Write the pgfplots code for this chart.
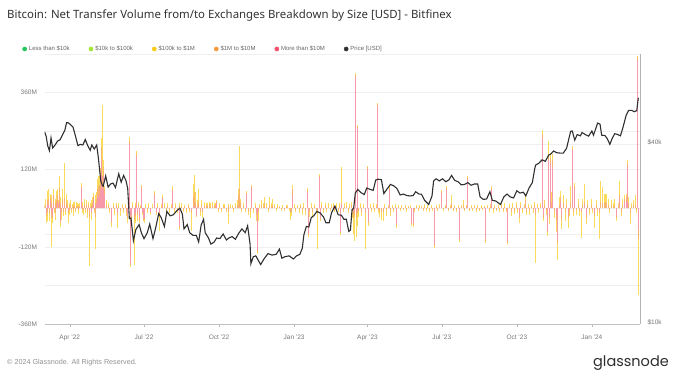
\documentclass[border=0pt]{standalone}
\usepackage{fontspec}
\setmainfont{Liberation Sans}
\newfontfamily\titlefont{Noto Sans}
\newfontfamily\logofont{Poppins}
\usepackage{pgfplots}
\pgfplotsset{compat=1.18}
\usepackage{pgfplotstable}

\definecolor{cgreen}{HTML}{22C55E}
\definecolor{clgreen}{HTML}{A3E635}
\definecolor{cyellow}{HTML}{F9CC16}
\definecolor{corange}{HTML}{F59A3C}
\definecolor{cred}{HTML}{F2506A}
\definecolor{cprice}{HTML}{303030}
\definecolor{ctick}{HTML}{777777}
\definecolor{cgrid}{HTML}{EFEFEF}
\definecolor{ctitle}{HTML}{333333}
\colorlet{byellow}{cyellow!70!white}
\colorlet{borange}{corange!75!white}
\colorlet{bred}{cred!58!white}

% day (from 1 Jan 2022), More than 10M, 1M-10M, 100k-1M  (USD millions)
\pgfplotstableread{
day red ora yel
59 0 6 8
60 0 10 18
61 -15 -10 -20
62 10 15 30
63 0 -10 -30
64 10 20 30
65 0 -15 -25
66 25 10 10
67 -9 -20 -90
68 0 15 25
69 -20 -10 -15
70 10 30 20
71 0 -5 -10
72 5 10 15
73 0 -15 -20
74 0 25 30
75 20 20 20
76 0 15 10
77 24 40 35
78 -40 -7 -10
79 0 15 20
80 0 -10 -25
81 10 20 30
82 0 -10 -15
83 6 25 110
84 0 20 20
85 0 -10 -10
86 5 15 25
87 0 10 15
88 -5 -10 -30
89 0 5 10
90 0 -5 -15
91 0 10 15
92 0 -5 -10
93 0 5 8
94 0 -5 -20
95 0 10 10
96 0 8 12
97 0 -4 -8
98 0 5 15
99 0 8 10
100 0 -6 -12
101 0 6 8
102 0 5 10
104 64 5 10
105 0 -5 -10
106 0 8 12
107 0 -5 -15
108 0 10 20
109 0 -5 -10
110 0 6 8
111 0 10 15
112 0 -10 -20
113 0 10 10
114 -4 -25 -150
115 0 5 10
116 -10 -5 -20
117 0 10 15
118 5 10 20
119 30 8 10
120 0 -5 -10
121 0 15 25
122 -6 -20 -100
123 15 15 20
124 40 20 30
125 34 35 30
126 44 30 25
127 40 40 20
128 60 30 35
129 150 40 30
130 60 40 222
131 100 30 20
132 40 20 10
133 20 10 10
135 0 10 15
137 0 8 7
139 0 -5 -10
141 -40 -7 -10
143 0 8 10
145 0 -5 -15
147 0 10 5
149 -10 -10 -40
150 0 5 10
152 0 -8 -15
154 0 5 8
156 0 -5 -10
158 0 8 5
160 0 -10 -15
161 -20 -10 -15
162 0 5 5
163 200 10 13
164 -170 -5 -7
165 0 -10 -20
166 -20 -10 -20
167 0 10 10
169 -20 -16 -140
170 -15 -10 -20
171 0 8 10
172 160 10 7
173 -10 -10 -20
174 0 10 10
175 -30 -10 -5
176 0 5 5
178 60 8 5
179 -10 -5 -5
180 -30 -5 -5
182 -30 -5 -10
183 0 5 8
185 0 -5 -10
187 0 5 10
189 -10 -5 -5
191 0 5 8
194 40 8 7
196 -10 -5 -5
198 0 5 10
200 -10 -10 -52
202 0 5 8
204 30 5 5
206 0 5 10
208 0 -5 -8
210 0 6 10
212 0 -5 -10
214 0 5 8
216 55 5 8
218 0 -5 -8
220 0 5 10
222 0 -5 -10
224 0 8 9
225 -55 -5 -7
227 0 5 10
229 0 -5 -8
231 0 5 5
233 0 -5 -10
235 0 8 6
237 0 -5 -8
239 -5 -10 -57
241 0 10 20
242 5 30 40
243 10 40 54
244 0 20 30
245 -21 -3 -3
246 0 10 15
248 5 14 40
250 0 -10 -15
251 0 10 15
253 -5 -5 -20
255 0 8 12
257 0 10 5
259 0 8 10
261 0 12 7
263 0 5 10
265 0 6 13
267 0 8 10
269 0 10 5
270 15 5 5
272 0 -5 -8
274 0 5 10
276 0 -5 -5
278 0 6 6
280 0 5 8
282 0 -5 -5
284 0 8 6
285 0 -10 -40
287 0 5 8
289 0 5 5
291 0 -5 -8
293 0 5 10
295 0 10 15
297 0 40 20
298 5 59 130
299 0 20 10
301 0 -5 -8
303 0 8 10
305 0 -5 -5
307 44 5 5
309 0 -10 -10
311 0 -10 -20
313 64 5 5
315 0 -5 -10
317 0 8 10
319 -10 -10 -20
320 -131 -5 -5
321 0 -10 -30
323 0 5 8
325 0 10 15
327 0 5 10
329 0 15 20
331 0 5 10
333 0 -5 -8
335 0 10 25
337 0 8 10
339 0 10 20
341 0 5 8
343 0 -3 -5
345 0 5 8
347 0 3 5
349 0 -3 -6
351 0 5 5
353 0 -4 -4
355 0 5 6
357 0 4 5
359 0 -3 -5
361 0 -15 -21
362 0 -10 -15
363 40 20 13
365 0 5 8
367 0 -5 -8
369 0 5 5
371 0 -5 -10
373 0 8 6
375 0 -5 -15
377 0 5 10
379 0 -8 -12
381 52 5 5
382 -78 -5 -5
384 0 -8 -20
386 0 5 10
388 0 -10 -20
390 0 5 8
392 0 -5 -10
394 -5 -6 -115
396 97 5 5
397 -30 -5 -5
399 0 10 10
401 0 -5 -10
403 0 8 8
405 0 -5 -8
407 0 5 10
409 0 -3 -5
411 0 5 8
413 0 8 10
415 0 -5 -8
417 0 5 12
419 0 -5 -5
421 0 5 10
422 -73 -5 -5
423 10 7 110
425 0 -5 -8
427 0 5 10
429 0 8 12
431 0 -5 -10
433 0 5 8
435 0 10 10
437 0 -10 -20
438 -10 -20 -50
439 -5 -15 -83
440 410 5 5
441 -10 -20 -60
442 250 5 5
443 -5 -10 -40
444 0 -8 -20
446 0 5 10
448 0 -10 -15
450 0 5 8
452 0 -5 -10
453 -6 -10 -110
455 122 5 5
456 -40 -5 -10
458 0 5 8
460 0 -5 -8
462 0 8 10
464 0 -5 -5
466 0 5 8
467 319 5 5
468 0 -5 -10
470 0 -8 -20
472 0 -10 -25
474 0 -10 -30
476 0 5 8
478 0 -5 -20
480 0 5 5
482 58 5 5
483 0 -10 -15
485 0 5 5
487 0 -5 -8
489 0 5 8
491 -50 -5 -5
493 0 5 5
495 0 -3 -5
497 0 4 6
499 0 -3 -3
501 0 5 5
503 0 -4 -6
505 0 3 5
507 0 5 4
509 -45 -5 -5
511 -47 -5 -5
513 0 -5 -5
515 0 4 5
517 0 -3 -6
519 0 5 6
521 0 3 4
523 0 -4 -5
525 0 5 8
527 0 -3 -4
529 0 4 5
531 0 -5 -5
533 0 5 5
535 0 -3 -4
537 -113 -5 -5
539 0 5 5
541 0 -4 -5
543 0 5 7
546 48 5 5
548 0 -3 -5
550 0 4 6
552 58 5 5
554 0 -4 -4
556 0 5 5
558 0 15 25
560 0 -4 -5
562 0 4 5
564 0 -5 -5
566 0 5 5
568 -94 -5 -5
570 0 5 6
572 0 10 15
574 0 -4 -4
576 0 5 5
578 91 5 5
580 0 -4 -5
582 0 5 5
584 0 -3 -5
586 0 4 5
588 0 -5 -5
590 0 5 6
592 0 -4 -5
594 0 5 5
596 0 -3 -3
598 0 4 4
600 -97 -5 -5
602 0 5 5
604 0 -5 -5
606 0 4 8
607 58 5 5
609 0 -5 -10
611 0 5 5
613 0 -4 -5
615 0 5 5
617 0 -5 -8
619 0 8 5
621 0 -5 -5
623 0 5 10
625 0 -5 -5
627 -102 -5 -5
629 0 5 8
631 0 -10 -15
633 0 5 10
635 0 -8 -10
637 0 10 10
639 0 -5 -10
641 -20 -10 -15
643 0 10 10
645 0 -5 -10
647 0 5 8
648 10 15 10
650 0 -10 -10
652 0 5 8
654 0 -8 -12
656 0 5 5
658 0 -5 -10
660 0 10 10
661 -10 -10 -150
663 0 5 8
665 0 -5 -10
667 0 8 10
669 220 12 12
670 -20 -10 -10
672 0 10 15
674 0 -5 -15
676 -70 -5 -10
677 150 18 40
678 -20 -10 -20
679 140 16 16
681 0 20 30
682 130 20 20
684 0 -10 -20
686 -20 -15 -40
688 -100 -12 -50
690 0 10 25
692 20 15 20
693 -20 -15 -30
695 0 15 25
697 0 -10 -30
699 0 10 20
701 -20 -10 -30
702 0 -5 -20
704 0 15 53
706 180 8 6
707 0 -10 -15
709 60 10 10
711 0 -5 -15
713 0 10 20
715 0 -8 -15
717 -5 -8 -80
719 0 10 20
721 10 10 55
723 -20 -10 -20
725 0 10 15
727 0 -5 -15
729 0 10 20
731 0 -5 -10
733 -15 -10 -35
735 0 10 15
737 0 -5 -20
739 -5 -10 -80
741 0 20 66
743 0 15 50
745 0 15 30
747 0 20 25
748 0 15 30
750 0 10 20
752 0 -5 -10
754 0 10 15
756 0 5 10
758 0 10 20
760 -25 -5 -10
762 0 5 10
764 30 10 46
766 0 -10 -15
768 0 10 20
770 20 10 10
772 20 15 10
774 130 10 11
775 0 15 20
777 0 -15 -35
779 0 5 10
781 0 10 15
783 0 10 30
785 0 -5 -10
786 460 10 5
787 -67 -30 -173
}\bars

% BTC price, USD
\pgfplotstableread{
day price
59 44000
61 42500
63 39400
65 38000
67 41900
69 38800
72 39700
75 40900
78 41300
81 42900
84 44500
86 47100
88 47100
91 46400
94 45500
96 43500
100 39500
103 39900
106 39700
109 41400
112 39500
115 38100
117 39700
120 38500
123 39700
125 36000
128 30100
130 29000
131 28900
134 31300
137 28700
140 29400
143 29600
146 28600
150 31800
153 29800
156 31400
159 30100
161 28400
163 22500
165 22600
168 19000
171 20700
175 21500
178 20100
181 19300
185 20200
188 21600
192 19300
195 20800
199 23400
202 22700
206 21200
209 23800
213 23000
217 23200
221 23900
225 24400
228 23300
230 20800
234 21500
237 20200
241 19800
245 19800
248 18800
251 21400
254 22400
256 20200
260 19400
263 18500
267 18800
270 19400
274 19300
278 20000
282 19100
285 19400
289 19600
293 19200
297 20100
301 20800
305 20200
308 21300
311 18500
312 15900
315 16800
318 16900
324 15800
328 16500
333 17200
338 17000
343 17100
347 17800
350 16600
354 16800
359 16900
364 16500
368 16900
372 17100
375 17900
377 19900
380 21200
383 21100
386 22700
389 23000
393 23800
397 23500
401 22800
404 21800
408 21800
411 23600
415 24800
419 23200
423 23100
426 22400
429 22400
432 20400
434 20600
436 24100
438 24400
440 27400
443 28200
447 27500
451 27100
454 28500
458 28200
462 28000
465 30300
468 30500
472 30400
475 27300
479 28300
483 29300
487 29000
491 28400
495 27000
499 27200
503 26900
507 26800
511 26900
514 27700
518 27200
521 27200
525 25900
530 25100
534 26800
536 30100
539 30600
543 30100
547 30600
551 29900
555 30400
558 31400
562 30200
566 29900
570 29200
574 29300
578 29700
582 29100
586 29400
590 29400
593 26600
597 26100
601 26200
605 27700
608 25900
612 25800
618 25100
622 26600
626 27200
630 26600
634 26400
638 27900
642 27400
646 27600
649 26800
653 28500
657 29700
660 33100
661 34000
665 34500
669 35400
673 35000
677 36700
680 37100
683 37900
687 37400
691 37300
695 37300
699 38700
702 41900
704 44100
706 44200
709 41200
712 43000
716 42600
718 43700
722 43000
726 42500
730 44200
732 42800
737 47000
740 46600
742 42800
746 42700
749 41600
752 39900
755 41800
758 43300
761 43100
765 42600
768 45300
772 49900
775 51800
779 51800
782 51300
785 51700
786 54500
787 57100
}\price

\begin{document}
\begin{tikzpicture}
\useasboundingbox (0,0) rectangle (685pt,375pt);

\node[anchor=base west, font=\titlefont\fontsize{11.4}{13}\selectfont, text=ctitle, inner sep=0pt]
  at (7pt,356pt) {Bitcoin: Net Transfer Volume from/to Exchanges Breakdown by Size [USD] - Bitfinex};

% bars axis
\begin{axis}[
  at={(44.5pt,51pt)}, anchor=south west,
  scale only axis, width=595.5pt, height=270pt,
  xmin=59, xmax=789, ymin=-360, ymax=480,
  axis x line*=bottom, axis y line*=left,
  x axis line style={draw=ctick!45, -},
  y axis line style={draw=none},
  xtick={90,181,273,365,455,546,638,730},
  xticklabels={Apr '22,Jul '22,Oct '22,Jan '23,Apr '23,Jul '23,Oct '23,Jan '24},
  xtick align=outside,
  x tick style={draw=ctick!50, line width=0.5pt},
  major tick length=3pt,
  ytick={-360,-240,-120,0,120,240,360,480},
  yticklabels={-360M,,-120M,,120M,,360M,},
  extra y ticks={-80,200},
  extra y tick labels={},
  extra y tick style={grid=major, y tick style={draw=none}},
  y tick style={draw=none},
  ymajorgrids,
  grid style={draw=cgrid, line width=0.6pt},
  ticklabel style={font=\fontsize{6.5}{7}\selectfont, text=ctick},
  yticklabel style={xshift=-4pt},
  xticklabel style={yshift=-4pt},
]
\addplot[ycomb, draw=byellow, line width=0.85pt, mark=none]
  table[x=day, y expr=\thisrow{red}+\thisrow{ora}+\thisrow{yel}] {\bars};
\addplot[ycomb, draw=borange, line width=0.85pt, mark=none]
  table[x=day, y expr=\thisrow{red}+\thisrow{ora}] {\bars};
\addplot[ycomb, draw=bred, line width=0.85pt, mark=none]
  table[x=day, y=red] {\bars};
\end{axis}

% price axis
\begin{axis}[
  at={(44.5pt,51pt)}, anchor=south west,
  scale only axis, width=595.5pt, height=270pt,
  xmin=59, xmax=789, ymode=log, ymin=10000, ymax=80000,
  axis x line=none, axis y line*=right,
  y axis line style={draw=ctick!55, -},
  ytick={10000,40000}, yticklabels={\$10k,\$40k},
  y tick style={draw=none},
  yticklabel style={font=\fontsize{6.5}{7}\selectfont, text=ctick, xshift=4pt, yshift=1.5pt},
  legend columns=-1,
  legend cell align=left,
  legend style={at={(rel axis cs:-0.0425,1.0185)}, anchor=west, draw=none, fill=none,
    font=\fontsize{6}{7}\selectfont, text=ctick!85!black,
    /tikz/every even column/.append style={column sep=17pt},
    /tikz/every odd column/.append style={column sep=0pt}},
]
\addlegendimage{legend image code/.code={\fill[cgreen] (0pt,0pt) circle (2.1pt);}}
\addlegendimage{legend image code/.code={\fill[clgreen] (0pt,0pt) circle (2.1pt);}}
\addlegendimage{legend image code/.code={\fill[cyellow] (0pt,0pt) circle (2.1pt);}}
\addlegendimage{legend image code/.code={\fill[corange] (0pt,0pt) circle (2.1pt);}}
\addlegendimage{legend image code/.code={\fill[cred] (0pt,0pt) circle (2.1pt);}}
\addlegendimage{legend image code/.code={\fill[cprice] (0pt,0pt) circle (2.1pt);}}
\addplot[cprice, line width=1.1pt, forget plot, mark=none] table[x=day, y=price] {\price};
\legend{Less than \$10k, \$10k to \$100k, \$100k to \$1M, \$1M to \$10M, More than \$10M, Price [USD]}
\end{axis}

\node[anchor=west, font=\fontsize{7.2}{8}\selectfont, text=ctick!80, inner sep=0pt]
  at (7pt,12pt) {\textcopyright\ 2024 Glassnode. All Rights Reserved.};
\node[anchor=base east, font=\logofont\fontsize{14.5}{16}\selectfont, text=ctitle!90!black, inner sep=0pt]
  at (669pt,9pt) {glassnode};
\end{tikzpicture}
\end{document}
